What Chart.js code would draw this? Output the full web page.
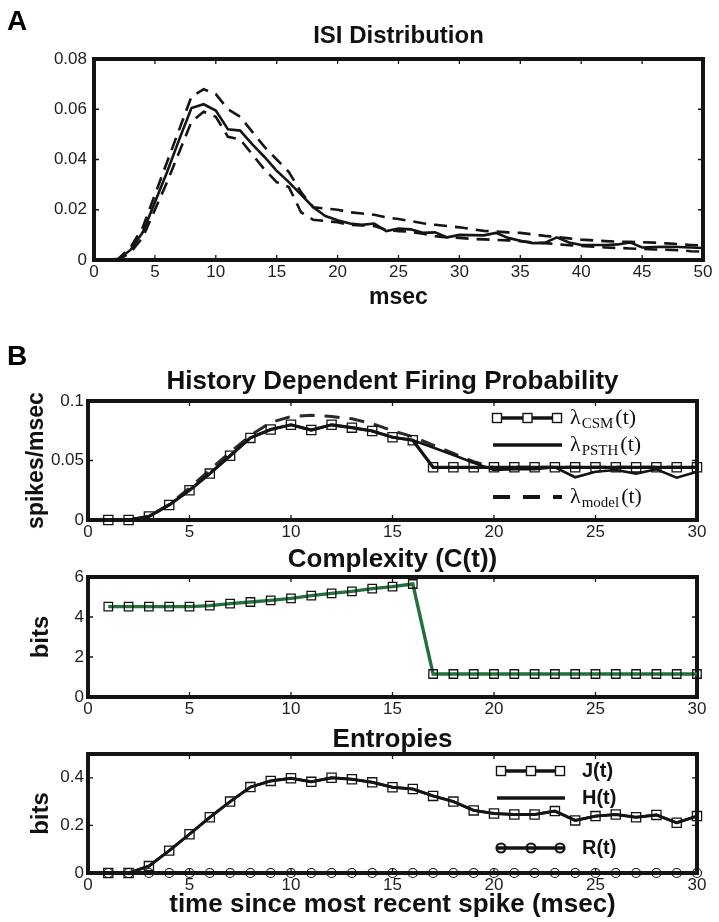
<!DOCTYPE html>
<html><head><meta charset="utf-8">
<script src="https://cdn.jsdelivr.net/npm/chart.js@4"></script>
<style>
html,body{margin:0;padding:0;background:#fff;}
body{width:719px;height:922px;position:relative;overflow:hidden;}
canvas{position:absolute;left:0;}
</style></head><body>
<canvas id="cA" width="719" height="320" style="top:0;width:719px;height:320px"></canvas>
<canvas id="cB1" width="719" height="210" style="top:330px;width:719px;height:210px"></canvas>
<canvas id="cB2" width="719" height="180" style="top:540px;width:719px;height:180px"></canvas>
<canvas id="cB3" width="719" height="202" style="top:720px;width:719px;height:202px"></canvas>
<script>
// ---------- Panel A data ----------
const isiMsec = [0,1,2,3,4,5,6,7,8,9,10,11,12,13,14,15,16,17,18,19,20,21,22,23,24,25,26,27,28,29,30,31,32,33,34,35,36,37,38,39,40,41,42,43,44,45,46,47,48,49,50];
const isiObserved = [0,0,0.0003,0.004,0.011,0.023,0.035,0.048,0.0605,0.062,0.0595,0.052,0.0515,0.046,0.041,0.0355,0.031,0.026,0.021,0.0175,0.0158,0.0145,0.014,0.0145,0.0115,0.0125,0.0122,0.0108,0.011,0.009,0.0100,0.0099,0.0098,0.0108,0.0088,0.0077,0.0067,0.0068,0.009,0.007,0.006,0.006,0.006,0.0062,0.007,0.005,0.0052,0.0053,0.0052,0.005,0.0048];
const isiUpper = [0,0,0.0005,0.005,0.013,0.026,0.039,0.052,0.065,0.068,0.066,0.060,0.057,0.051,0.045,0.040,0.035,0.027,0.021,0.0205,0.020,0.019,0.0185,0.018,0.017,0.0163,0.0155,0.0146,0.014,0.0135,0.013,0.0123,0.0116,0.0113,0.011,0.0108,0.0102,0.0096,0.0092,0.0086,0.0081,0.0078,0.0075,0.0073,0.0072,0.0071,0.0069,0.0066,0.0063,0.006,0.0058];
const isiLower = [0,0,0,0.003,0.009,0.020,0.031,0.043,0.055,0.059,0.057,0.049,0.048,0.042,0.036,0.031,0.029,0.019,0.016,0.0155,0.015,0.014,0.0138,0.0135,0.012,0.0115,0.0112,0.0105,0.0095,0.009,0.0088,0.0084,0.0082,0.008,0.0078,0.0075,0.007,0.0067,0.0063,0.0059,0.0056,0.0053,0.005,0.0048,0.0046,0.0044,0.0042,0.0041,0.0039,0.0035,0.0033];
const isiTicksX = [0,5,10,15,20,25,30,35,40,45,50];
const isiTicksY = [0,0.02,0.04,0.06,0.08];

// ---------- Panel B data ----------
const lagMsec = [1,2,3,4,5,6,7,8,9,10,11,12,13,14,15,16,17,18,19,20,21,22,23,24,25,26,27,28,29,30];
const lambdaCSM = [0,0,0.003,0.0126,0.025,0.039,0.054,0.069,0.076,0.080,0.0756,0.080,0.0776,0.0748,0.0695,0.067,0.0443,0.0443,0.0443,0.0443,0.0443,0.0443,0.0443,0.0443,0.0443,0.0443,0.0443,0.0443,0.0443,0.0443];
const lambdaPSTH = [0,0,0.003,0.0126,0.025,0.039,0.054,0.069,0.076,0.080,0.0756,0.080,0.0776,0.0748,0.0695,0.067,0.061,0.0546,0.048,0.042,0.0426,0.0426,0.0443,0.0359,0.0406,0.042,0.039,0.0426,0.0356,0.0406];
const lambdaModel = [0,0,0.003,0.013,0.027,0.042,0.057,0.071,0.082,0.087,0.088,0.087,0.085,0.081,0.075,0.070,0.063,0.056,0.049,0.044,0.0443,0.0443,0.0443,0.0443,0.0443,0.0443,0.0443,0.0443,0.0443,0.0443];
const complexityBits = [4.52,4.52,4.52,4.52,4.52,4.57,4.67,4.75,4.83,4.93,5.07,5.18,5.28,5.42,5.52,5.65,1.15,1.15,1.15,1.15,1.15,1.15,1.15,1.15,1.15,1.15,1.15,1.15,1.15,1.15];
const entropyJ = [0,0,0.029,0.094,0.163,0.234,0.30,0.361,0.387,0.398,0.383,0.40,0.394,0.381,0.36,0.353,0.324,0.30,0.263,0.25,0.246,0.246,0.26,0.221,0.239,0.246,0.234,0.244,0.211,0.239];
const entropyH = [0,0,0.029,0.094,0.163,0.234,0.30,0.361,0.387,0.398,0.383,0.40,0.394,0.381,0.36,0.353,0.324,0.30,0.263,0.25,0.246,0.246,0.26,0.221,0.239,0.246,0.234,0.244,0.211,0.239];
const entropyR = [0,0,0,0,0,0,0,0,0,0,0,0,0,0,0,0,0,0,0,0,0,0,0,0,0,0,0,0,0,0];
const lagTicksX = [0,5,10,15,20,25,30];
const lambdaTicksY = [0,0.05,0.1];
const complexityTicksY = [0,2,4,6];
const entropyTicksY = [0,0.2,0.4];

// ---------- styling helpers ----------
const INK = '#141414';
Chart.defaults.font.family = '"Liberation Sans", Arial, Helvetica, sans-serif';
Chart.defaults.color = '#1e1e1e';

const pts = (xs, ys) => xs.map((x, i) => ({x: x, y: ys[i]}));

const framePlugin = {
  id: 'frameTicks',
  beforeDatasetsDraw(chart) {
    const {ctx, chartArea: a, scales} = chart;
    const x = scales.x, y = scales.y;
    ctx.save();
    ctx.strokeStyle = INK;
    ctx.lineWidth = 1.3;
    const tl = 5;
    ctx.beginPath();
    x.ticks.forEach(t => {
      const px = x.getPixelForValue(t.value);
      if (px <= a.left + 3 || px >= a.right - 3) return;
      ctx.moveTo(px, a.top); ctx.lineTo(px, a.top + tl);
      ctx.moveTo(px, a.bottom); ctx.lineTo(px, a.bottom - tl);
    });
    y.ticks.forEach(t => {
      const py = y.getPixelForValue(t.value);
      if (py <= a.top + 3 || py >= a.bottom - 3) return;
      ctx.moveTo(a.left, py); ctx.lineTo(a.left + tl, py);
      ctx.moveTo(a.right, py); ctx.lineTo(a.right - tl, py);
    });
    ctx.stroke();
    ctx.lineWidth = 4;
    ctx.strokeRect(a.left, a.top, a.right - a.left, a.bottom - a.top);
    ctx.restore();
  }
};

function letterPlugin(letter, x, y) {
  return {
    id: 'panelLetter',
    afterDraw(chart) {
      const ctx = chart.ctx;
      ctx.save();
      ctx.font = 'bold 28px "Liberation Sans", Arial, sans-serif';
      ctx.fillStyle = '#000';
      ctx.textBaseline = 'alphabetic';
      ctx.fillText(letter, x, y);
      ctx.restore();
    }
  };
}

function drawMarker(ctx, kind, x, y) {
  ctx.save();
  ctx.setLineDash([]);
  if (kind === 'rect') {
    ctx.lineWidth = 1.4;
    ctx.strokeStyle = INK;
    ctx.fillStyle = '#fff';
    ctx.fillRect(x - 4.5, y - 4.5, 9, 9);
    ctx.strokeRect(x - 4.5, y - 4.5, 9, 9);
  } else {
    ctx.lineWidth = 2.2;
    ctx.strokeStyle = INK;
    ctx.beginPath();
    ctx.arc(x, y, 4.5, 0, Math.PI * 2);
    ctx.stroke();
  }
  ctx.restore();
}

function legendPlugin(items) {
  return {
    id: 'sketchLegend',
    afterDatasetsDraw(chart) {
      const {ctx, chartArea: a} = chart;
      items.forEach(it => {
        const y = a.top + it.dy, x0 = a.left + it.dx0, x1 = a.left + it.dx1;
        ctx.save();
        ctx.strokeStyle = INK;
        ctx.lineWidth = it.lineWidth;
        ctx.setLineDash(it.dash || []);
        ctx.beginPath(); ctx.moveTo(x0, y); ctx.lineTo(x1, y); ctx.stroke();
        ctx.setLineDash([]);
        if (it.marker) [x0 + 4, (x0 + x1) / 2, x1 - 5].forEach(mx => drawMarker(ctx, it.marker, mx, y));
        let tx = a.left + it.dtx;
        ctx.fillStyle = '#111';
        ctx.textBaseline = 'middle';
        it.text.forEach(p => {
          ctx.font = p.font;
          ctx.fillText(p.s, tx, y + (p.dy || 0));
          tx += ctx.measureText(p.s).width + (p.gap || 0);
        });
        ctx.restore();
      });
    }
  };
}

function makeOptions(c) {
  const xs = {
    type: 'linear', min: c.xMin, max: c.xMax,
    grid: {display: false, drawTicks: false},
    border: {display: false},
    afterBuildTicks: s => { s.ticks = c.xTicks.map(v => ({value: v})); },
    afterFit: s => { s.height = c.xHeight; },
    ticks: {font: {size: c.tickSize}, padding: 2, color: '#1e1e1e', maxRotation: 0, autoSkip: false, callback: v => String(v)},
    title: c.xTitle ? {display: true, text: c.xTitle, font: {size: c.xTitleSize, weight: 'bold', lineHeight: 1}, color: '#111', padding: {top: 0, bottom: c.xTitlePad}} : {display: false}
  };
  const ys = {
    type: 'linear', min: c.yMin, max: c.yMax,
    grid: {display: false, drawTicks: false},
    border: {display: false},
    afterBuildTicks: s => { s.ticks = c.yTicks.map(v => ({value: v})); },
    afterFit: s => { s.width = c.yWidth; },
    ticks: {font: {size: c.tickSize}, padding: c.yTickPad, color: '#1e1e1e', autoSkip: false, callback: v => String(v)},
    title: c.yTitle ? {display: true, text: c.yTitle, font: {size: c.yTitleSize, weight: 'bold', lineHeight: 1}, color: '#111', padding: {top: c.yTitlePad, bottom: 0}} : {display: false}
  };
  return {
    responsive: false, animation: false, devicePixelRatio: 1, events: [],
    layout: {padding: {left: 0, right: c.padRight, top: 0, bottom: 0}},
    plugins: {
      legend: {display: false}, tooltip: {enabled: false},
      title: {display: true, text: c.title, fullSize: false, color: '#111',
        font: {size: c.titleSize, weight: 'bold', lineHeight: 1},
        padding: {top: c.titlePadTop, bottom: c.titlePadBottom}}
    },
    scales: {x: xs, y: ys}
  };
}

// ---------- Panel A ----------
new Chart(document.getElementById('cA'), {
  type: 'line',
  data: {datasets: [
    {data: pts(isiMsec, isiObserved), borderColor: INK, borderWidth: 2.6, pointRadius: 0, tension: 0, clip: false},
    {data: pts(isiMsec, isiUpper), borderColor: INK, borderWidth: 2.6, borderDash: [13, 8], pointRadius: 0, tension: 0, clip: false},
    {data: pts(isiMsec, isiLower), borderColor: INK, borderWidth: 2.6, borderDash: [13, 8], pointRadius: 0, tension: 0, clip: false}
  ]},
  options: makeOptions({
    xMin: 0, xMax: 50, xTicks: isiTicksX, yMin: 0, yMax: 0.08, yTicks: isiTicksY,
    xHeight: 60, yWidth: 94, padRight: 16, tickSize: 17, yTickPad: 7,
    xTitle: 'msec', xTitleSize: 23, xTitlePad: 11,
    title: 'ISI Distribution', titleSize: 24, titlePadTop: 24, titlePadBottom: 11
  }),
  plugins: [framePlugin, letterPlugin('A', 7, 30)]
});

// ---------- Panel B1 ----------
const serif = '"Liberation Serif", "Times New Roman", serif';
new Chart(document.getElementById('cB1'), {
  type: 'line',
  data: {datasets: [
    {data: pts(lagMsec, lambdaCSM), borderColor: INK, borderWidth: 3.2, pointStyle: 'rect', pointRadius: 6.5, pointBorderWidth: 1.3, pointBorderColor: INK, pointBackgroundColor: 'rgba(255,255,255,0)', tension: 0, clip: false},
    {data: pts(lagMsec, lambdaPSTH), borderColor: INK, borderWidth: 2.6, pointRadius: 0, tension: 0, clip: false},
    {data: pts(lagMsec, lambdaModel), borderColor: '#2a2a2a', borderWidth: 3, borderDash: [15, 10], pointRadius: 0, tension: 0, clip: false}
  ]},
  options: makeOptions({
    xMin: 0, xMax: 30, xTicks: lagTicksX, yMin: 0, yMax: 0.1, yTicks: lambdaTicksY,
    xHeight: 20, yWidth: 88, padRight: 22, tickSize: 17, yTickPad: 4,
    yTitle: 'spikes/msec', yTitleSize: 23, yTitlePad: 25,
    title: 'History Dependent Firing Probability', titleSize: 26, titlePadTop: 39, titlePadBottom: 6
  }),
  plugins: [framePlugin, letterPlugin('B', 7, 35), legendPlugin([
    {dy: 17, dx0: 405, dx1: 474, lineWidth: 3.6, marker: 'rect', dtx: 482,
     text: [{s: 'λ', font: '22px ' + serif, gap: 1}, {s: 'CSM', font: '15px ' + serif, dy: 6, gap: 2}, {s: '(t)', font: '22px ' + serif}]},
    {dy: 44, dx0: 405, dx1: 474, lineWidth: 3.6, dtx: 482,
     text: [{s: 'λ', font: '22px ' + serif, gap: 1}, {s: 'PSTH', font: '15px ' + serif, dy: 6, gap: 2}, {s: '(t)', font: '22px ' + serif}]},
    {dy: 96, dx0: 405, dx1: 474, lineWidth: 4, dash: [17, 13], dtx: 482,
     text: [{s: 'λ', font: '22px ' + serif, gap: 1}, {s: 'model', font: '15px ' + serif, dy: 6, gap: 2}, {s: '(t)', font: '22px ' + serif}]}
  ])]
});

// ---------- Panel B2 ----------
new Chart(document.getElementById('cB2'), {
  type: 'line',
  data: {datasets: [
    {data: pts(lagMsec, complexityBits), borderColor: '#22703a', borderWidth: 3.4, pointStyle: 'rect', pointRadius: 6, pointBorderWidth: 1.3, pointBorderColor: INK, pointBackgroundColor: 'rgba(255,255,255,0)', tension: 0, clip: false}
  ]},
  options: makeOptions({
    xMin: 0, xMax: 30, xTicks: lagTicksX, yMin: 0, yMax: 6, yTicks: complexityTicksY,
    xHeight: 23, yWidth: 88, padRight: 22, tickSize: 17, yTickPad: 4,
    yTitle: 'bits', yTitleSize: 24, yTitlePad: 29,
    title: 'Complexity (C(t))', titleSize: 26, titlePadTop: 7, titlePadBottom: 4
  }),
  plugins: [framePlugin]
});

// ---------- Panel B3 ----------
const sansB = 'bold 20px "Liberation Sans", Arial, sans-serif';
new Chart(document.getElementById('cB3'), {
  type: 'line',
  data: {datasets: [
    {data: pts(lagMsec, entropyR), borderColor: INK, borderWidth: 2, pointStyle: 'circle', pointRadius: 4.5, pointBorderWidth: 1.2, pointBorderColor: INK, pointBackgroundColor: 'rgba(255,255,255,0)', tension: 0, clip: false},
    {data: pts(lagMsec, entropyJ), borderColor: INK, borderWidth: 3, pointStyle: 'rect', pointRadius: 6.5, pointBorderWidth: 1.3, pointBorderColor: INK, pointBackgroundColor: 'rgba(255,255,255,0)', tension: 0, clip: false},
    {data: pts(lagMsec, entropyH), borderColor: INK, borderWidth: 2.6, pointRadius: 0, tension: 0, clip: false}
  ]},
  options: makeOptions({
    xMin: 0, xMax: 30, xTicks: lagTicksX, yMin: 0, yMax: 0.5, yTicks: entropyTicksY,
    xHeight: 49, yWidth: 88, padRight: 22, tickSize: 17, yTickPad: 4,
    xTitle: 'time since most recent spike (msec)', xTitleSize: 26, xTitlePad: 4,
    yTitle: 'bits', yTitleSize: 24, yTitlePad: 29,
    title: 'Entropies', titleSize: 26, titlePadTop: 7, titlePadBottom: 1
  }),
  plugins: [framePlugin, legendPlugin([
    {dy: 17, dx0: 409, dx1: 477, lineWidth: 3.6, marker: 'rect', dtx: 494, text: [{s: 'J(t)', font: sansB}]},
    {dy: 44, dx0: 409, dx1: 477, lineWidth: 3.6, dtx: 494, text: [{s: 'H(t)', font: sansB}]},
    {dy: 94, dx0: 409, dx1: 477, lineWidth: 3.6, marker: 'circle', dtx: 494, text: [{s: 'R(t)', font: sansB}]}
  ])]
});
</script>
</body></html>
